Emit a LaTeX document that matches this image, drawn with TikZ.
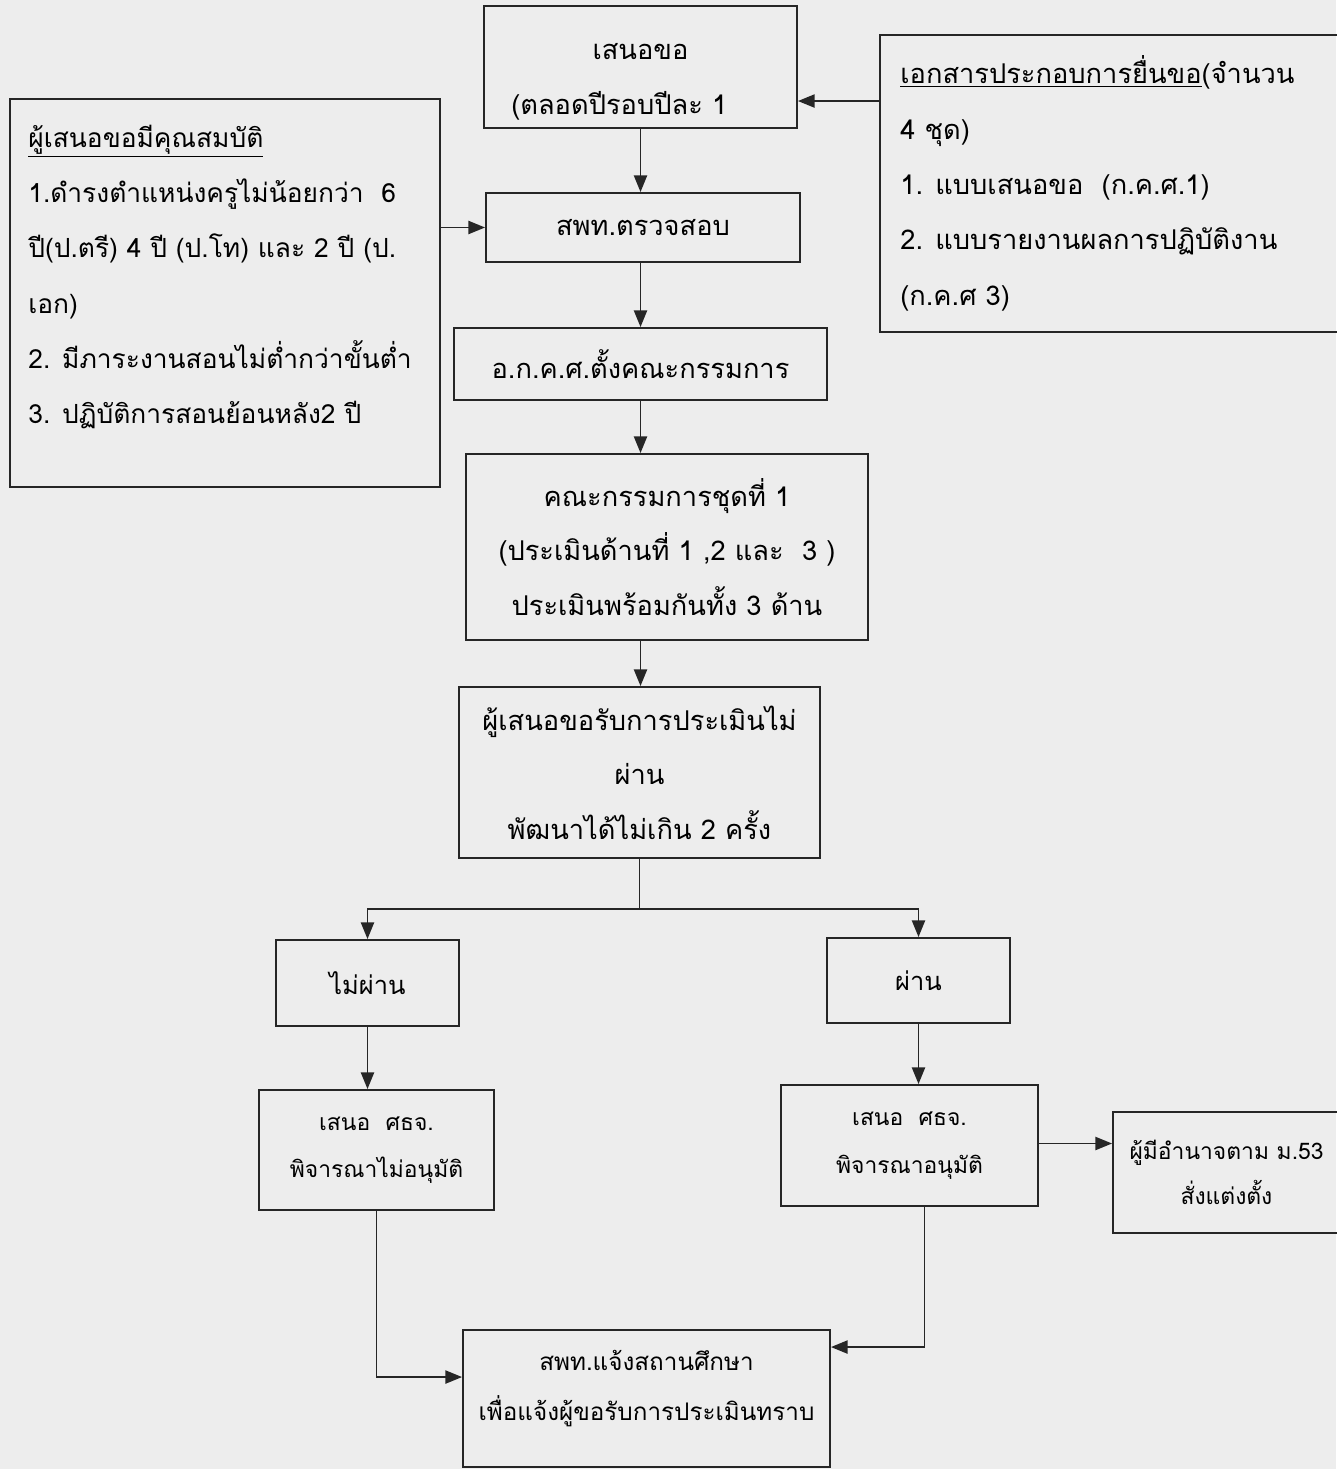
\documentclass[tikz,border=0pt]{standalone}
\usepackage{fontspec}
\newfontfamily\thaifont[Script=Thai]{Loma}
\usetikzlibrary{arrows.meta,calc}
\begin{document}
\begin{tikzpicture}[x=0.02cm,y=-0.02cm,
  box/.style={draw=black!85, line width=1.1pt, inner sep=0pt, align=center,
    font=\thaifont\fontsize{15.5pt}{31pt}\selectfont},
  wh/.style 2 args={minimum width=#1*0.02cm, minimum height=#2*0.02cm},
  txt/.style={inner sep=0pt, align=left, font=\thaifont\fontsize{15pt}{31.5pt}\selectfont},
  arr/.style={-{Triangle[length=9.5pt,width=7.5pt]}, line width=1pt, draw=black!85},
  ln/.style={line width=1pt, draw=black!85}]
\fill[black!7] (0,0) rectangle (1336,1469);
\useasboundingbox (0,0) rectangle (1336,1469);

% boxes
\node[box, wh={313}{122}] (b1) at (640.5,67) {\rule{0pt}{26pt}เสนอขอ\\(ตลอดปีรอบปีละ 1\hspace*{0.85cm}};
\node[box, wh={430}{388}] (q) at (225,293) {};
\node[txt, anchor=west] (qt) at (28,277) {\underline{ผู้เสนอขอมีคุณสมบัติ}\\
1.ดำรงตำแหน่งครูไม่น้อยกว่า~~6\\
ปี(ป.ตรี) 4 ปี (ป.โท) และ 2 ปี (ป.\\
เอก)\\
2. มีภาระงานสอนไม่ต่ำกว่าขั้นต่ำ\\
3. ปฏิบัติการสอนย้อนหลัง2 ปี};
\node[box, wh={470}{297}] (d) at (1115,183.5) {};
\node[txt, anchor=west, font=\thaifont\fontsize{15.5pt}{31.5pt}\selectfont] (dt) at (900,183.5) {\underline{เอกสารประกอบการยื่นขอ}(จำนวน\\
4 ชุด)\\
1. แบบเสนอขอ~~(ก.ค.ศ.1)\\
2. แบบรายงานผลการปฏิบัติงาน\\
(ก.ค.ศ 3)};
\node[box, wh={314}{69}] (b2) at (643,227.5) {สพท.ตรวจสอบ};
\node[box, wh={373}{72}] (b3) at (640.5,364) {อ.ก.ค.ศ.ตั้งคณะกรรมการ};
\node[box, wh={402}{186}] (b4) at (667,547) {คณะกรรมการชุดที่ 1\\(ประเมินด้านที่ 1 ,2 และ~~3 )\\ประเมินพร้อมกันทั้ง 3 ด้าน};
\node[box, wh={361}{171}] (b5) at (639.5,772.5) {ผู้เสนอขอรับการประเมินไม่\\ผ่าน\\พัฒนาได้ไม่เกิน 2 ครั้ง};
\node[box, wh={183}{86}, font=\thaifont\fontsize{14.5pt}{30pt}\selectfont] (b6) at (367.5,983) {ไม่ผ่าน};
\node[box, wh={183}{85}, font=\thaifont\fontsize{14.5pt}{30pt}\selectfont] (b7) at (918.5,980.5) {ผ่าน};
\node[box, wh={235}{120}, font=\thaifont\fontsize{13pt}{27pt}\selectfont] (b8) at (376.5,1150) {เสนอ~~ศธจ.\\พิจารณาไม่อนุมัติ};
\node[box, wh={257}{121}, font=\thaifont\fontsize{13pt}{27pt}\selectfont] (b9) at (909.5,1145.5) {เสนอ~~ศธจ.\\พิจารณาอนุมัติ};
\node[box, wh={227}{121}, font=\thaifont\fontsize{13pt}{25.5pt}\selectfont] (b10) at (1226.5,1172.5) {ผู้มีอำนาจตาม ม.53\\สั่งแต่งตั้ง};
\node[box, wh={367}{137}, font=\thaifont\fontsize{13.8pt}{28.5pt}\selectfont] (b11) at (646.5,1398.5) {สพท.แจ้งสถานศึกษา\\เพื่อแจ้งผู้ขอรับการประเมินทราบ\\[-14pt]\mbox{}};

% connectors
\draw[arr] ($(d.north west)+(0,67)$) coordinate (dA) -- (dA -| b1.east);
\draw[arr] (q.east |- b2.west) -- (b2.west);
\draw[arr] (b1.south) -- (b1.south |- b2.north);
\draw[arr] (b2.south -| b1.south) -- (b1.south |- b3.north);
\draw[arr] (b3.south) -- (b3.south |- b4.north);
\draw[arr] (b3.south |- b4.south) -- (b3.south |- b5.north);
\draw[ln] (b5.south) -- ++(0,50) coordinate (sp);
\draw[arr] (sp) -| (b6.north);
\draw[arr] (sp) -| (b7.north);
\draw[arr] (b6.south) -- (b6.south |- b8.north);
\draw[arr] (b7.south) -- (b7.south |- b9.north);
\draw[arr] ($(b9.east)+(0,-2)$) coordinate (bA) -- (bA -| b10.west);
\draw[arr] (b8.south) |- ($(b11.north west)+(0,48)$);
\draw[arr] ($(b9.south)+(15,0)$) |- ($(b11.north east)+(0,18)$);
\end{tikzpicture}
\end{document}
